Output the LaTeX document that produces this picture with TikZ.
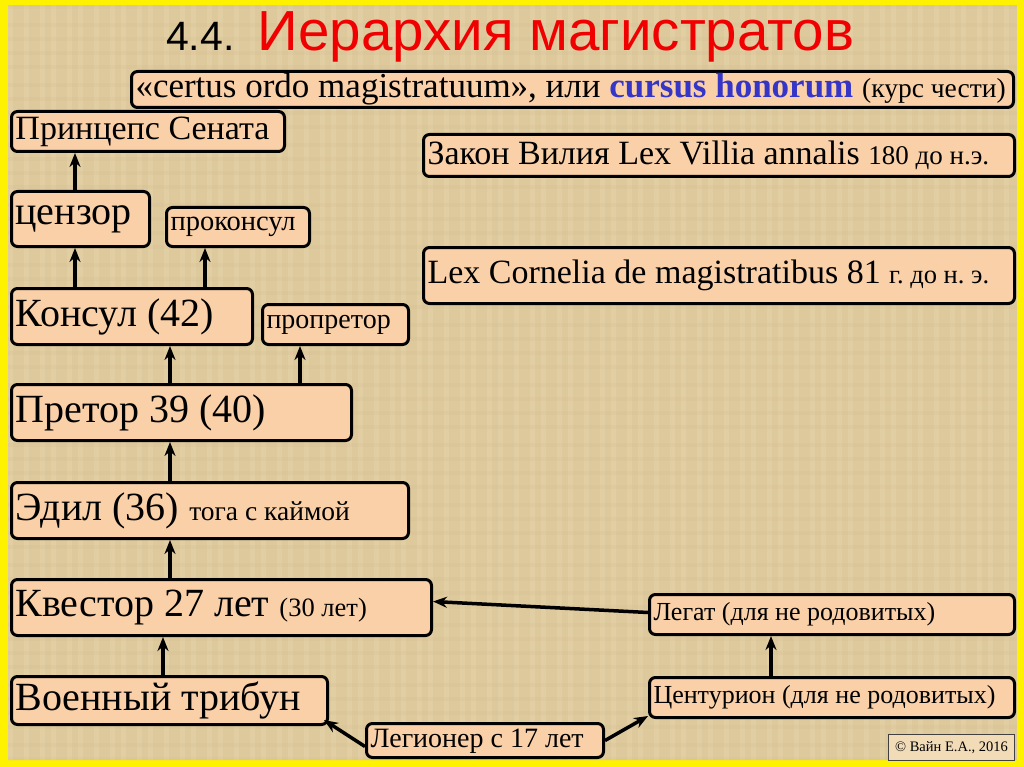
\documentclass[tikz,border=0pt]{standalone}
\usepackage{fontspec}
\setmainfont{Liberation Serif}
\newfontfamily\arialf{Liberation Sans}
\usetikzlibrary{arrows.meta}
\definecolor{parch}{HTML}{DDC99C}
\definecolor{parchlight}{HTML}{EEDDB5}
\definecolor{parchdark}{HTML}{C9B282}
\definecolor{peach}{HTML}{FAD0A8}
\definecolor{ttlred}{HTML}{F00000}
\definecolor{cblue}{HTML}{3535C8}
\definecolor{copyfill}{HTML}{F2DCB8}
\newcommand\fs[1]{\fontsize{#1}{#1}\selectfont}
\frenchspacing
\begin{document}
\begin{tikzpicture}[x=1pt,y=-1pt,
  box/.style={draw=black, line width=3pt, fill=peach, rounded corners=6pt,
    anchor=north west, inner xsep=4pt, inner ysep=0pt, align=flush left, font=\fs{40}},
  arr/.style={line width=3.5pt, -{Stealth[length=14pt,width=11pt]}},
]
\fill[yellow] (0,0) rectangle (1024,767);
\fill[parch] (8,5) rectangle (1017,760);
% subtle woven texture
\begin{scope}
\clip (8,5) rectangle (1017,760);
\foreach \i in {0,...,72} {
  \pgfmathsetmacro\xx{8+\i*14+mod(\i*7,5)}
  \fill[parchlight, opacity=0.25] (\xx,5) rectangle ++(5,755);
}
\foreach \j in {0,...,50} {
  \pgfmathsetmacro\yy{5+\j*15+mod(\j*3,4)}
  \fill[parchdark, opacity=0.12] (8,\yy) rectangle ++(1009,4);
}
\end{scope}
\useasboundingbox (0,0) rectangle (1024,767);

% title
\node[anchor=base west, inner sep=0pt] (title) at (166,51)
  {\arialf\fs{41}4.4.\hspace{23pt}\fs{56.5}\color{ttlred}Иерархия магистратов};

% boxes
\node[box, font=\fs{35}, text width=874pt, text height=25pt, text depth=8pt, minimum height=36pt] (certus) at (130,70)
  {«certus ordo magistratuum», или \textbf{\color{cblue}cursus honorum} {\fs{27.5}(курс чести)}};
\node[box, font=\fs{34}, text width=265pt, minimum height=40pt] (princ) at (10,110) {Принцепс Сената};
\node[box, font=\fs{34}, text width=583pt, minimum height=42pt] (zakon) at (422,133)
  {Закон Вилия Lex Villia annalis {\fs{27}180 до н.э.}};
\node[box, text width=130pt, minimum height=55pt] (cenz) at (10,190) {цензор};
\node[box, font=\fs{28.5}, text width=135pt, minimum height=39pt] (prokons) at (165,206) {проконсул};
\node[box, font=\fs{34}, text width=583pt, minimum height=56pt] (cornelia) at (422,246)
  {Lex Cornelia de magistratibus 81 {\fs{26.5}г. до н. э.}};
\node[box, text width=233pt, minimum height=56pt] (konsul) at (10,287) {Консул (42)};
\node[box, font=\fs{28}, text width=138pt, minimum height=40pt] (proprae) at (261,303) {пропретор};
\node[box, text width=332pt, minimum height=56pt] (praetor) at (10,383) {Претор 39 (40)};
\node[box, text width=389pt, minimum height=56pt] (aedil) at (10,481) {Эдил (36) {\fs{27.5}тога с каймой}};
\node[box, text width=412pt, minimum height=56pt] (quaestor) at (10,578) {Квестор 27 лет {\fs{26.5}(30 лет)}};
\node[box, text width=308pt, minimum height=48pt] (tribun) at (10,675) {Военный трибун};
\node[box, font=\fs{26}, text width=357pt, minimum height=40pt] (legat) at (648,593) {Легат (для не родовитых)};
\node[box, font=\fs{26}, text width=357pt, minimum height=40pt] (centur) at (648,676) {Центурион (для не родовитых)};
\node[box, font=\fs{28}, text width=229pt, minimum height=34pt, text height=19pt, text depth=6pt] (legion) at (365,722) {Легионер с 17 лет};
\node[draw=black!75, line width=1pt, fill=copyfill, anchor=north west, inner sep=0pt,
  minimum width=126pt, minimum height=26pt, font=\fs{14.5}] (copy) at (888,734) {© Вайн Е.А., 2016};

% arrows
\draw[arr] ([xshift=65pt]cenz.north west) -- ([xshift=65pt]princ.south west);
\draw[arr] ([xshift=65pt]konsul.north west) -- ([xshift=65pt]cenz.south west);
\draw[arr] ([xshift=195pt]konsul.north west) -- ([xshift=40pt]prokons.south west);
\draw[arr] ([xshift=160pt]praetor.north west) -- ([xshift=160pt]konsul.south west);
\draw[arr] ([xshift=290pt]praetor.north west) -- ([xshift=39pt]proprae.south west);
\draw[arr] ([xshift=160pt]aedil.north west) -- ([xshift=160pt]praetor.south west);
\draw[arr] ([xshift=160pt]quaestor.north west) -- ([xshift=160pt]aedil.south west);
\draw[arr] ([xshift=153pt]tribun.north west) -- ([xshift=153pt]quaestor.south west);
\draw[arr] ([yshift=2pt]legat.west) -- ([yshift=6pt]quaestor.east);
\draw[arr] ([xshift=123pt]centur.north west) -- ([xshift=123pt]legat.south west);
\draw[arr] ([yshift=-6pt]legion.west) -- ([xshift=-5pt,yshift=6pt]tribun.south east);
\draw[arr] (legion.east) -- ([yshift=3pt]centur.south west);
\end{tikzpicture}
\end{document}
